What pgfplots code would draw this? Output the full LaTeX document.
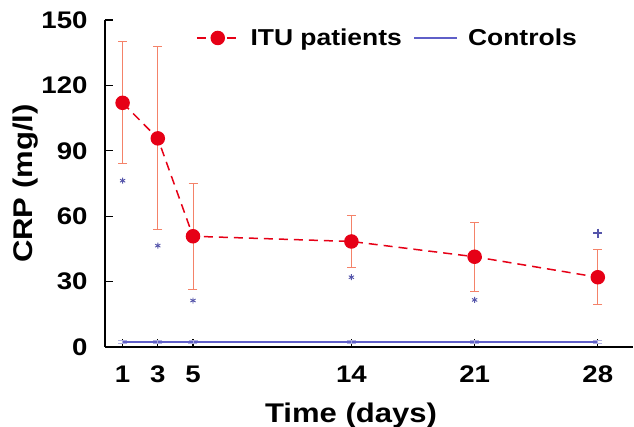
\documentclass[border=0pt]{standalone}
\usepackage{fontspec}
\setmainfont[FakeStretch=1.15]{Liberation Sans}
\usepackage{pgfplots}
\pgfplotsset{compat=1.18}

\definecolor{ituRed}{RGB}{230,0,22}
\definecolor{errSalmon}{RGB}{244,130,105}
\definecolor{ctrlBlue}{RGB}{95,95,200}
\definecolor{ctrlErr}{RGB}{175,175,225}
\definecolor{starBlue}{RGB}{85,85,170}

\newcommand\tickfont{\bfseries\fontsize{24}{24}\selectfont}
\newcommand\labfont{\bfseries\fontsize{27}{27}\selectfont}
\newcommand\legfont{\bfseries\fontsize{23}{23}\selectfont}

\begin{document}
\begin{tikzpicture}
\begin{axis}[
    scale only axis,
    width=528pt, height=327pt,
    xmin=0, xmax=30, ymin=0, ymax=150,
    axis lines=left,
    axis line style={-, line width=1.4pt, black},
    xtick={1,3,5,14,21,28},
    ytick={0,30,60,90,120,150},
    tick align=inside,
    major tick length=8pt,
    tick style={black, line width=1.2pt},
    /pgf/number format/assume math mode=true,
    tick label style={font=\tickfont},
    yticklabel style={xshift=-14pt},
    xticklabel style={yshift=-15pt},
    xlabel={Time (days)},
    ylabel={CRP (mg/l)},
    label style={font=\labfont},
    xlabel style={at={(axis description cs:0.466,-0.21)}, anchor=center},
    ylabel style={at={(axis description cs:-0.15,0.5)}, anchor=center, rotate=0},
    clip=false,
    legend columns=2,
    legend style={at={(rel axis cs:0.172,0.945)}, anchor=west, draw=none,
        fill=none, font=\legfont, inner sep=0pt,
        /tikz/every odd column/.append style={column sep=8pt},
        /tikz/every even column/.append style={column sep=10pt}},
    legend image code/.code={\draw[mark repeat=2,mark phase=2]
        plot coordinates {(0pt,0pt)(21pt,0pt)(43pt,0pt)};},
]
% ITU patients, mean +- error
\addplot[ituRed, dash pattern=on 9pt off 6pt, line width=1.5pt,
    mark=*, mark size=6.5pt, mark options={solid, fill=ituRed},
    error bars/.cd, y dir=both, y explicit,
    error bar style={errSalmon, line width=1pt, solid},
    error mark options={errSalmon, rotate=90, mark size=4.5pt, line width=1pt, solid}]
coordinates {
    (1, 112)  +- (0, 28)
    (3, 95.7) +- (0, 42)
    (5, 50.8) +- (0, 24.3)
    (14, 48.4) +- (0, 11.9)
    (21, 41.4) +- (0, 15.9)
    (28, 32)  +- (0, 12.6)
};
\addlegendentry{ITU patients}
% Controls
\addplot[ctrlBlue, line width=1.2pt, mark=none,
    error bars/.cd, y dir=both, y explicit,
    error bar style={ctrlErr, line width=0.8pt},
    error mark options={ctrlErr, rotate=90, mark size=4.5pt, line width=1.5pt}]
coordinates {
    (1, 2.3) +- (0, 0.7)
    (3, 2.3) +- (0, 0.7)
    (5, 2.3) +- (0, 0.7)
    (14, 2.3) +- (0, 0.7)
    (21, 2.3) +- (0, 0.7)
    (28, 2.3) +- (0, 0.7)
};
\addlegendentry{Controls}
% significance markers
\addplot[only marks, mark=asterisk, mark size=3pt, starBlue, line width=0.9pt, forget plot]
coordinates {(1, 76.3) (3, 46.5) (5, 21.3) (14, 32) (21, 21.6)};
\addplot[only marks, mark=+, mark size=4.5pt, starBlue, line width=2pt, forget plot]
coordinates {(28, 52.2)};
\coordinate (bl) at (rel axis cs:0,0);
\coordinate (tr) at (rel axis cs:1,1);
\end{axis}
\pgfresetboundingbox
\path ([shift={(-105pt,-80pt)}]bl) rectangle ([shift={(1pt,20pt)}]tr);
\end{tikzpicture}
\end{document}
